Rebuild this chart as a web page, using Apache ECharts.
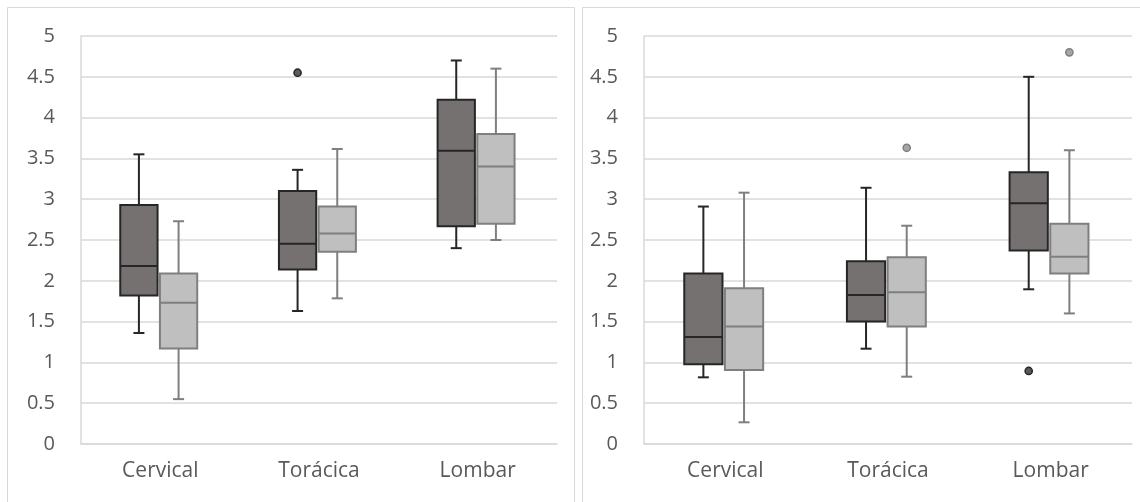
<!DOCTYPE html>
<html><head><meta charset="utf-8">
<script src="https://cdn.jsdelivr.net/npm/echarts@6/dist/echarts.min.js"></script>
<style>html,body{margin:0;padding:0;background:#fff}#c{width:1140px;height:502px}</style>
</head><body><div id="c"></div>
<script>
const categories = ['Cervical', 'Torácica', 'Lombar'];
const yMin = 0, yMax = 5, yStep = 0.5;

// Left panel
const leftDarkLow  = [1.36, 1.63, 2.40];
const leftDarkQ1   = [1.82, 2.14, 2.67];
const leftDarkMed  = [2.18, 2.455, 3.595];
const leftDarkQ3   = [2.93, 3.10, 4.22];
const leftDarkHigh = [3.55, 3.36, 4.70];
const leftDarkOut  = [[1, 4.55]];

const leftLightLow  = [0.55, 1.785, 2.50];
const leftLightQ1   = [1.17, 2.357, 2.70];
const leftLightMed  = [1.73, 2.58, 3.40];
const leftLightQ3   = [2.09, 2.91, 3.80];
const leftLightHigh = [2.73, 3.615, 4.60];
const leftLightOut  = [];

// Right panel
const rightDarkLow  = [0.817, 1.168, 1.896];
const rightDarkQ1   = [0.977, 1.50, 2.37];
const rightDarkMed  = [1.31, 1.826, 2.95];
const rightDarkQ3   = [2.09, 2.24, 3.33];
const rightDarkHigh = [2.91, 3.14, 4.50];
const rightDarkOut  = [[2, 0.895]];

const rightLightLow  = [0.266, 0.825, 1.60];
const rightLightQ1   = [0.907, 1.44, 2.09];
const rightLightMed  = [1.44, 1.86, 2.295];
const rightLightQ3   = [1.91, 2.29, 2.70];
const rightLightHigh = [3.08, 2.675, 3.60];
const rightLightOut  = [[1, 3.63], [2, 4.80]];

const DARK = {fill: '#767171', stroke: '#262626', outFill: '#595959'};
const LIGHT = {fill: '#BFBFBF', stroke: '#7F7F7F', outFill: '#A6A6A6'};

function boxRows(low, q1, med, q3, high) {
  return categories.map((c, i) => [i, low[i], q1[i], med[i], q3[i], high[i]]);
}

function boxSeries(gi, rows, offset, sty) {
  return {
    type: 'custom', xAxisIndex: gi, yAxisIndex: gi, data: rows,
    encode: {x: 0, y: [1, 2, 3, 4, 5]},
    renderItem: function (params, api) {
      const ci = api.value(0);
      const band = api.size([1, 0])[0];
      const cx = api.coord([ci, 0])[0] + offset * band;
      const w = band * 0.235;
      const y = k => api.coord([ci, api.value(k)])[1];
      const yl = y(1), y1 = y(2), ym = y(3), y3 = y(4), yh = y(5);
      const cap = 11;
      const ls = {stroke: sty.stroke, lineWidth: 2};
      return {type: 'group', children: [
        {type: 'line', shape: {x1: cx, y1: y3, x2: cx, y2: yh}, style: ls},
        {type: 'line', shape: {x1: cx - cap / 2, y1: yh, x2: cx + cap / 2, y2: yh}, style: ls},
        {type: 'line', shape: {x1: cx, y1: y1, x2: cx, y2: yl}, style: ls},
        {type: 'line', shape: {x1: cx - cap / 2, y1: yl, x2: cx + cap / 2, y2: yl}, style: ls},
        {type: 'rect', shape: {x: cx - w / 2, y: y3, width: w, height: y1 - y3},
          style: {fill: sty.fill, stroke: sty.stroke, lineWidth: 2}},
        {type: 'line', shape: {x1: cx - w / 2, y1: ym, x2: cx + w / 2, y2: ym}, style: ls}
      ]};
    }
  };
}

function outSeries(gi, pts, offset, sty) {
  return {
    type: 'custom', xAxisIndex: gi, yAxisIndex: gi, data: pts,
    encode: {x: 0, y: 1},
    renderItem: function (params, api) {
      const ci = api.value(0);
      const band = api.size([1, 0])[0];
      const p = api.coord([ci, api.value(1)]);
      return {type: 'circle', shape: {cx: p[0] + offset * band, cy: p[1], r: 3.6},
        style: {fill: sty.outFill, stroke: sty.stroke, lineWidth: 1.5}};
    }
  };
}

const font = '"Open Sans", sans-serif';
function xAx(gi) {
  return {type: 'category', gridIndex: gi, data: categories,
    axisLine: {show: true, lineStyle: {color: '#D9D9D9', width: 1.5}},
    axisTick: {show: false},
    axisLabel: {color: '#595959', fontSize: 21, fontFamily: font, margin: 17},
    splitLine: {show: false}};
}
function yAx(gi) {
  return {type: 'value', gridIndex: gi, min: yMin, max: yMax, interval: yStep,
    axisLine: {show: true, lineStyle: {color: '#D9D9D9', width: 1.5}},
    axisTick: {show: false},
    axisLabel: {color: '#595959', fontSize: 20, fontFamily: font, margin: 26},
    splitLine: {show: true, lineStyle: {color: '#D9D9D9', width: 1.5}}};
}

const chart = echarts.init(document.getElementById('c'));
chart.setOption({
  animation: false,
  backgroundColor: '#fff',
  graphic: [
    {type: 'rect', shape: {x: 7.5, y: 7.5, width: 567, height: 620}, style: {fill: 'none', stroke: '#D9D9D9', lineWidth: 1}},
    {type: 'rect', shape: {x: 582.5, y: 7.5, width: 620, height: 620}, style: {fill: 'none', stroke: '#D9D9D9', lineWidth: 1}}
  ],
  grid: [
    {left: 81, top: 36, width: 476, height: 408},
    {left: 644, top: 36, width: 488, height: 408}
  ],
  xAxis: [xAx(0), xAx(1)],
  yAxis: [yAx(0), yAx(1)],
  series: [
    boxSeries(0, boxRows(leftDarkLow, leftDarkQ1, leftDarkMed, leftDarkQ3, leftDarkHigh), -0.135, DARK),
    boxSeries(0, boxRows(leftLightLow, leftLightQ1, leftLightMed, leftLightQ3, leftLightHigh), 0.115, LIGHT),
    outSeries(0, leftDarkOut, -0.135, DARK),
    outSeries(0, leftLightOut, 0.115, LIGHT),
    boxSeries(1, boxRows(rightDarkLow, rightDarkQ1, rightDarkMed, rightDarkQ3, rightDarkHigh), -0.135, DARK),
    boxSeries(1, boxRows(rightLightLow, rightLightQ1, rightLightMed, rightLightQ3, rightLightHigh), 0.115, LIGHT),
    outSeries(1, rightDarkOut, -0.135, DARK),
    outSeries(1, rightLightOut, 0.115, LIGHT)
  ]
});
</script></body></html>
